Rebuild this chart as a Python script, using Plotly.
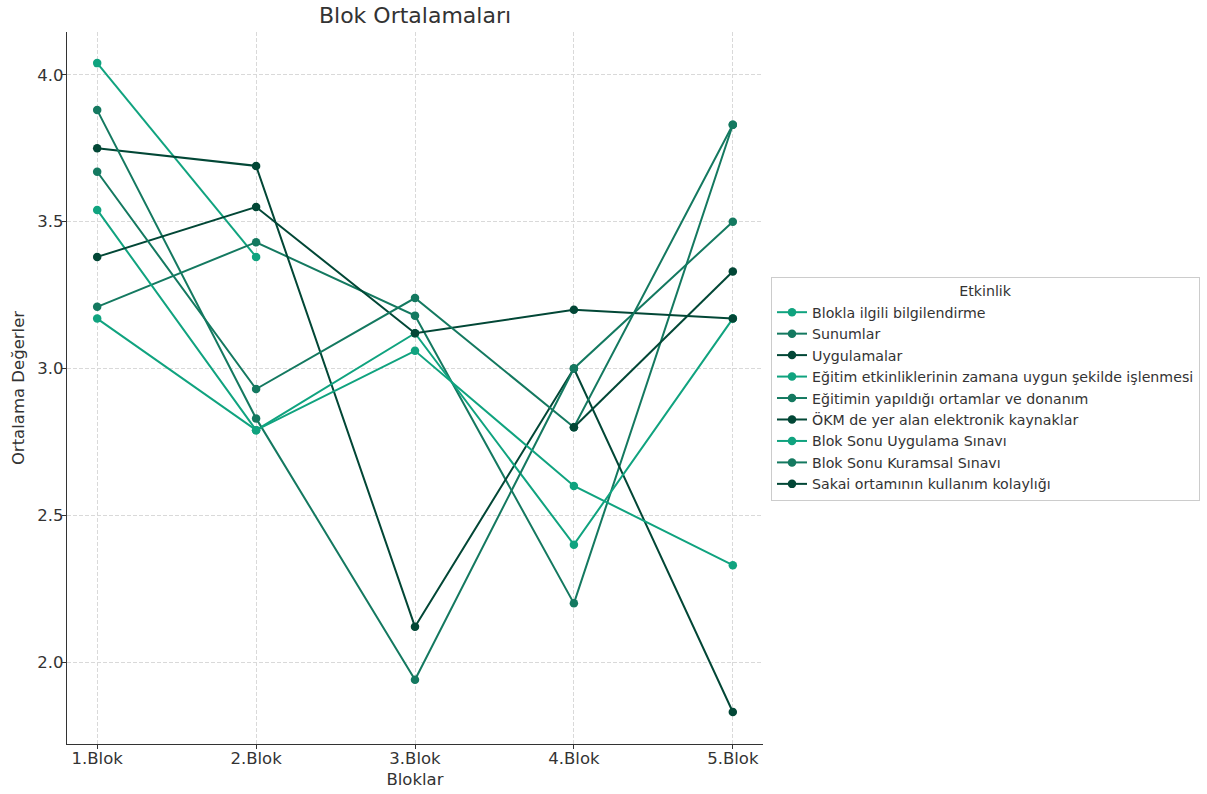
import plotly.graph_objects as go

blocks = ["1.Blok", "2.Blok", "3.Blok", "4.Blok", "5.Blok"]
NaN = None

names = [
    "Blokla ilgili bilgilendirme",
    "Sunumlar",
    "Uygulamalar",
    "Eğitim etkinliklerinin zamana uygun şekilde işlenmesi",
    "Eğitimin yapıldığı ortamlar ve donanım",
    "ÖKM de yer alan elektronik kaynaklar",
    "Blok Sonu Uygulama Sınavı",
    "Blok Sonu Kuramsal Sınavı",
    "Sakai ortamının kullanım kolaylığı",
]

blokla = [4.04, 3.38, NaN, NaN, NaN]
sunumlar = [3.21, 3.43, 3.18, 2.20, 3.83]
uygulamalar = [3.75, 3.69, 2.12, 3.00, 1.83]
zamana_uygun = [3.54, 2.79, 3.12, 2.40, 3.17]
ortamlar = [3.88, 2.83, 1.94, 3.00, 3.50]
okm = [3.38, 3.55, 3.12, 3.20, 3.17]
uygulama_sinavi = [3.17, 2.79, 3.06, 2.60, 2.33]
kuramsal_sinavi = [3.67, 2.93, 3.24, 2.80, 3.83]
sakai = [NaN, NaN, NaN, 2.80, 3.33]

series = [blokla, sunumlar, uygulamalar, zamana_uygun, ortamlar, okm,
          uygulama_sinavi, kuramsal_sinavi, sakai]
palette = ["#10A37F", "#147960", "#024736"]

fig = go.Figure()
for i, (name, vals) in enumerate(zip(names, series)):
    c = palette[i % 3]
    fig.add_trace(go.Scatter(
        x=blocks, y=vals, name=name, mode="lines+markers",
        line=dict(color=c, width=2), marker=dict(color=c, size=8.5),
        connectgaps=False,
    ))

W, H = 1207, 794
L, R, T, B = 67, 763, 32, 744
font_family = "DejaVu Sans"
fig.update_layout(
    width=W, height=H,
    margin=dict(l=L, r=W - R, t=T, b=H - B, autoexpand=False),
    paper_bgcolor="white", plot_bgcolor="white",
    font=dict(family=font_family, color="#333333"),
    title=dict(text="Blok Ortalamaları", x=(L + R) / 2 / W, xanchor="center",
               y=1 - 15.5 / H, yanchor="middle", yref="container",
               font=dict(size=22, color="#333333")),
    showlegend=True,
    legend=dict(
        x=(771 - L) / (R - L), y=(B - 277) / (B - T),
        xanchor="left", yanchor="top",
        bordercolor="#cccccc", borderwidth=1, bgcolor="white",
        font=dict(size=14.2, color="#333333"),
        title=dict(text="Etkinlik", side="top center", font=dict(size=14.2, color="#333333")),
        tracegroupgap=0,
    ),
)
fig.update_xaxes(
    type="category", range=[-0.19, 4.19], automargin=False,
    showline=True, linecolor="#333333", linewidth=1.3, mirror=False,
    ticks="outside", ticklen=4, tickcolor="#333333",
    ticklabelstandoff=-5,
    showgrid=True, gridcolor="#d9d9d9", gridwidth=0.8, griddash="4px,2px",
    tickfont=dict(size=16.5, color="#333333"),
    title=dict(text="Bloklar", font=dict(size=16.5, color="#333333"), standoff=6),
    zeroline=False,
)
fig.update_yaxes(
    range=[1.721, 4.146], automargin=False,
    tickvals=[2.0, 2.5, 3.0, 3.5, 4.0], tickformat=".1f",
    showline=True, linecolor="#333333", linewidth=1.3, mirror=False,
    ticks="outside", ticklen=4, tickcolor="#333333",
    ticklabelstandoff=-5,
    showgrid=True, gridcolor="#d9d9d9", gridwidth=0.8, griddash="4px,2px",
    tickfont=dict(size=16.5, color="#333333"),
    title=dict(text="Ortalama Değerler", font=dict(size=16.5, color="#333333"), standoff=8),
    zeroline=False,
)

fig.write_html("out.html", config={"displayModeBar": False},
               post_script="document.body.style.margin='0px';")
